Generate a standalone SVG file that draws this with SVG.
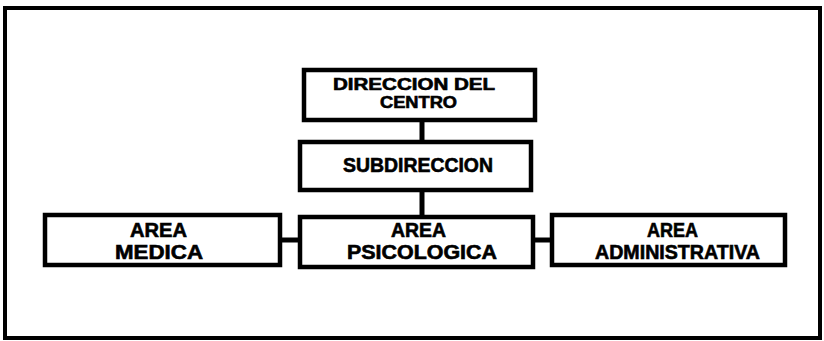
<svg xmlns="http://www.w3.org/2000/svg" width="824" height="341" viewBox="0 0 824 341">
  <style>
    .box { fill: #ffffff; stroke: #000000; stroke-width: 4.5; }
    .frame { fill: none; stroke: #000000; stroke-width: 4; }
    .conn { fill: none; stroke: #000000; stroke-width: 5; }
    .lbl { font-family: "Liberation Sans", Arial, sans-serif; font-weight: bold; font-size: 19.5px; fill: #000000; stroke: #000000; stroke-width: 0.6; text-anchor: middle; }
    .sm { font-size: 16px; }
  </style>
  <rect x="0" y="0" width="824" height="341" fill="#ffffff"/>
  <rect class="frame" x="5" y="8" width="815" height="330"/>
  <g id="connectors">
    <line class="conn" x1="422" y1="120" x2="422" y2="142"/>
    <line class="conn" x1="422" y1="190" x2="422" y2="217"/>
    <line class="conn" x1="280" y1="240" x2="300" y2="240"/>
    <line class="conn" x1="533" y1="240" x2="552" y2="240"/>
  </g>
  <g id="direccion">
    <rect class="box" x="304" y="70" width="231" height="50"/>
    <text class="lbl sm" x="414" y="90" textLength="162" lengthAdjust="spacingAndGlyphs">DIRECCION DEL</text>
    <text class="lbl sm" x="418.5" y="108" textLength="77" lengthAdjust="spacingAndGlyphs">CENTRO</text>
  </g>
  <g id="subdireccion">
    <rect class="box" x="300" y="142" width="231" height="48"/>
    <text class="lbl" x="418" y="172" textLength="150" lengthAdjust="spacingAndGlyphs">SUBDIRECCION</text>
  </g>
  <g id="area-medica">
    <rect class="box" x="45" y="215" width="235" height="50"/>
    <text class="lbl" x="158.5" y="237" textLength="57" lengthAdjust="spacingAndGlyphs">AREA</text>
    <text class="lbl" x="159" y="259" textLength="88" lengthAdjust="spacingAndGlyphs">MEDICA</text>
  </g>
  <g id="area-psicologica">
    <rect class="box" x="300" y="217" width="233" height="50"/>
    <text class="lbl" x="418.5" y="237" textLength="55" lengthAdjust="spacingAndGlyphs">AREA</text>
    <text class="lbl" x="422" y="259" textLength="150" lengthAdjust="spacingAndGlyphs">PSICOLOGICA</text>
  </g>
  <g id="area-administrativa">
    <rect class="box" x="552" y="215" width="233" height="50"/>
    <text class="lbl" x="672.5" y="237" textLength="51" lengthAdjust="spacingAndGlyphs">AREA</text>
    <text class="lbl" x="677.5" y="259" textLength="165" lengthAdjust="spacingAndGlyphs">ADMINISTRATIVA</text>
  </g>
</svg>
